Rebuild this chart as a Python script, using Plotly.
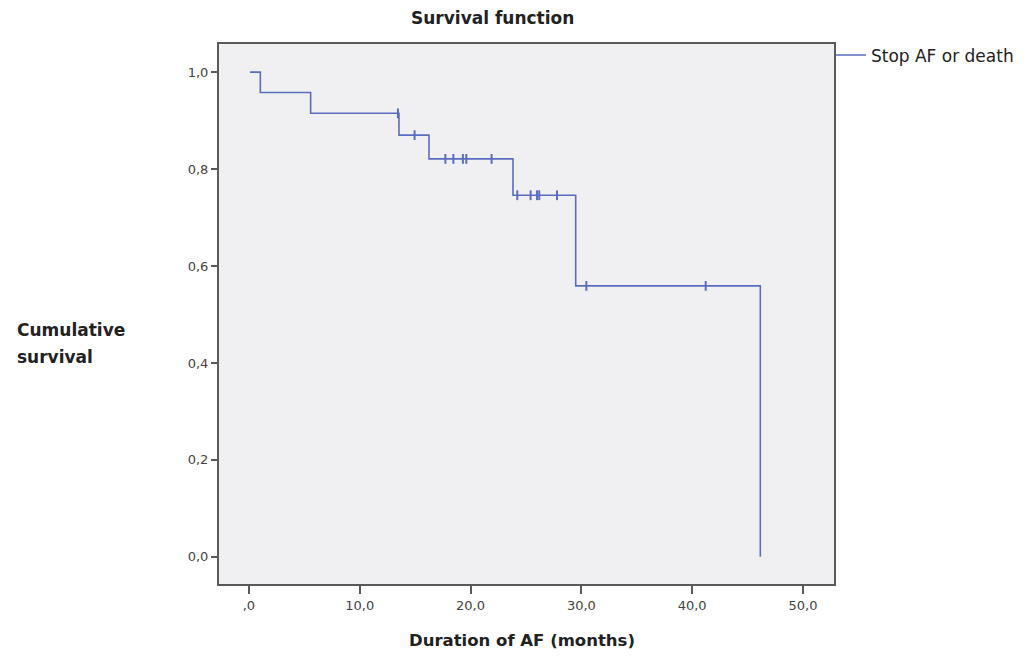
import plotly.graph_objects as go

# Kaplan-Meier step data
event_times = [0.1, 1.03, 5.57, 13.54, 16.25, 23.83, 29.49, 46.15]
survival = [1.0, 0.958, 0.915, 0.870, 0.821, 0.746, 0.559, 0.0]

# Censored observations
censor_times = [13.45, 14.95, 17.73, 18.45, 19.31, 19.62, 21.9,
                24.22, 25.42, 26.0, 26.2, 27.8, 30.45, 41.22]
censor_surv = [0.915, 0.870, 0.821, 0.821, 0.821, 0.821, 0.821,
               0.746, 0.746, 0.746, 0.746, 0.746, 0.559, 0.559]

x_ticks = [0, 10, 20, 30, 40, 50]
x_labels = [",0", "10,0", "20,0", "30,0", "40,0", "50,0"]
y_ticks = [0, 0.2, 0.4, 0.6, 0.8, 1.0]
y_labels = ["0,0", "0,2", "0,4", "0,6", "0,8", "1,0"]

BLUE = "#5b6cc0"
AXIS = "#5a5a5a"
FONT = "DejaVu Sans"

fig = go.Figure()
fig.add_trace(go.Scatter(
    x=event_times, y=survival, mode="lines", line_shape="hv",
    line=dict(color=BLUE, width=1.6), name="Stop AF or death",
    showlegend=True, hoverinfo="skip"))
fig.add_trace(go.Scatter(
    x=censor_times, y=censor_surv, mode="markers",
    marker=dict(symbol="line-ns", size=7, line=dict(color=BLUE, width=2)),
    name="censored", showlegend=False))

fig.update_layout(
    width=1029, height=657,
    margin=dict(l=211, r=203, t=36, b=81),
    paper_bgcolor="white", plot_bgcolor="#f0f0f2",
    font=dict(family=FONT, color="#333", size=12),
    showlegend=True,
    legend=dict(x=0.995, y=1.012, xanchor="left", yanchor="top",
                itemwidth=30, font=dict(family=FONT, size=17, color="#222"),
                bgcolor="rgba(0,0,0,0)", tracegroupgap=0),
    xaxis=dict(range=[-2.7, 52.8], tickvals=x_ticks, ticktext=x_labels,
               showgrid=False, zeroline=False, showline=True, mirror=True,
               linecolor=AXIS, linewidth=2, ticks="outside", ticklen=8,
               tickcolor=AXIS, tickwidth=2,
               tickfont=dict(family=FONT, size=13, color="#444")),
    yaxis=dict(range=[-0.056, 1.058], tickvals=y_ticks, ticktext=y_labels,
               showgrid=False, zeroline=False, showline=True, mirror=True,
               linecolor=AXIS, linewidth=2, ticks="outside", ticklen=6,
               tickcolor=AXIS, tickwidth=2,
               tickfont=dict(family=FONT, size=13, color="#444")),
    annotations=[
        dict(text="<b>Survival function</b>", x=0.444, y=1.0, xref="paper",
             yref="paper", yshift=26, showarrow=False, yanchor="middle",
             font=dict(family=FONT, size=17, color="#222"), xanchor="center"),
        dict(text="<b>Cumulative</b>", x=-0.332, y=0.470,
             xref="paper", yref="paper", showarrow=False, align="left",
             xanchor="left", yanchor="middle",
             font=dict(family=FONT, size=17, color="#222")),
        dict(text="<b>survival</b>", x=-0.332, y=0.420,
             xref="paper", yref="paper", showarrow=False, align="left",
             xanchor="left", yanchor="middle",
             font=dict(family=FONT, size=17, color="#222")),
        dict(text="<b>Duration of AF (months)</b>", x=0.493, y=0,
             xref="paper", yref="paper", yshift=-56, showarrow=False,
             yanchor="middle",
             font=dict(family=FONT, size=16.5, color="#222"), xanchor="center"),
    ],
)

fig.write_html("out.html")
